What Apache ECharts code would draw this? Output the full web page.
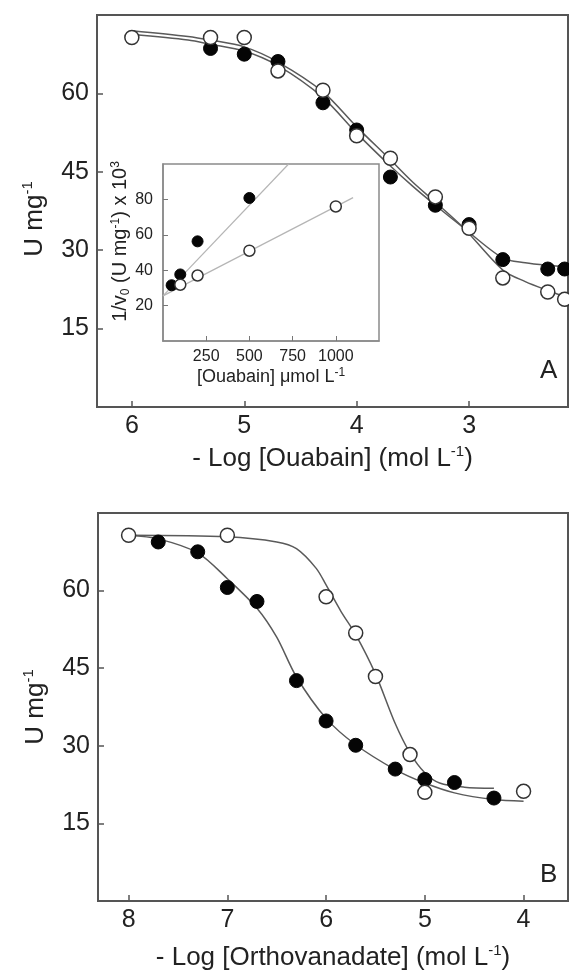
<!DOCTYPE html>
<html>
<head>
    <meta charset="utf-8">
    <title>Ouabain / Orthovanadate</title>
    <script src="https://cdn.jsdelivr.net/npm/echarts@6/dist/echarts.min.js"></script>
    <style>
        html, body { margin: 0; padding: 0; background: #fff; }
    </style>
</head>
<body>
    <div id="chart" style="width: 569px;height:974px;"></div>
    <script type="text/javascript">
        // panel A : ouabain, -log concentration vs activity
        var ouabFilled = [[5.3, 68.6], [5.0, 67.5], [4.7, 66.1], [4.3, 58.2], [4.0, 53.0], [3.7, 44.0],
                          [3.3, 38.6], [3.0, 34.9], [2.7, 28.2], [2.3, 26.4], [2.15, 26.4]];
        var ouabOpen = [[6.0, 70.7], [5.3, 70.7], [5.0, 70.7], [4.7, 64.3], [4.3, 60.6], [4.0, 51.9],
                        [3.7, 47.6], [3.3, 40.2], [3.0, 34.2], [2.7, 24.7], [2.3, 22.0], [2.15, 20.6]];
        // fitted curves
        var ouabFilledFit = [[6.0, 71.3], [5.5, 70.2], [5.3, 69.4], [5.0, 68.1], [4.7, 65.3], [4.3, 59.2],
                             [4.0, 52.4], [3.7, 46.1], [3.5, 42.2], [3.3, 38.6], [3.05, 34.3], [2.7, 28.5],
                             [2.5, 27.6], [2.3, 27.1], [2.12, 26.8]];
        var ouabOpenFit = [[6.0, 72.0], [5.5, 70.9], [5.3, 70.2], [5.0, 68.9], [4.7, 66.0], [4.3, 60.3],
                           [4.0, 53.6], [3.7, 47.3], [3.5, 43.0], [3.3, 39.2], [3.05, 34.3], [2.7, 26.2],
                           [2.5, 24.0], [2.3, 22.3], [2.12, 20.9]];

        // inset : double reciprocal plot
        var insetFilled = [[50, 31.5], [100, 37.6], [200, 56.3], [500, 80.8]];
        var insetOpen = [[100, 31.8], [200, 37.0], [500, 51.0], [1000, 76.0]];
        var insetFilledLine = [[0, 25.5], [727, 100]];
        var insetOpenLine = [[0, 25.5], [1100, 81]];

        // panel B : orthovanadate
        var vanFilled = [[7.7, 69.4], [7.3, 67.5], [7.0, 60.6], [6.7, 57.9], [6.3, 42.6], [6.0, 34.8],
                         [5.7, 30.1], [5.3, 25.5], [5.0, 23.5], [4.7, 22.9], [4.3, 19.9]];
        var vanOpen = [[8.0, 70.7], [7.0, 70.7], [6.0, 58.8], [5.7, 51.8], [5.5, 43.4], [5.15, 28.3],
                       [5.0, 21.0], [4.0, 21.2]];
        var vanFilledFit = [[8.0, 70.7], [7.7, 70.0], [7.3, 67.3], [7.0, 62.3], [6.7, 56.6], [6.5, 51.0],
                            [6.3, 43.3], [6.0, 35.3], [5.7, 30.2], [5.3, 25.4], [5.0, 22.8], [4.7, 20.9],
                            [4.3, 19.6], [4.0, 19.3]];
        var vanOpenFit = [[8.0, 70.7], [7.0, 70.4], [6.5, 69.4], [6.3, 68.1], [6.1, 64.3], [6.0, 61.1],
                          [5.85, 56.0], [5.7, 51.5], [5.5, 43.9], [5.3, 34.3], [5.15, 28.6], [5.0, 24.8],
                          [4.85, 22.8], [4.6, 22.0], [4.3, 21.8]];

        var ouabTicks = [6, 5, 4, 3];
        var vanTicks = [8, 7, 6, 5, 4];

        var FONT = 'Liberation Sans, Arial, sans-serif';
        var AXIS_COLOR = '#555';
        var CURVE_COLOR = '#5a5a5a';
        var INSET_COLOR = '#8a8a8a';

        var mainRich = {
            sup: { fontSize: 15, verticalAlign: 'top', lineHeight: 15, fontFamily: FONT, color: '#222' }
        };
        var insetRich = {
            sup: { fontSize: 12, verticalAlign: 'top', lineHeight: 12, fontFamily: FONT, color: '#222' },
            sub: { fontSize: 12, verticalAlign: 'bottom', lineHeight: 12, fontFamily: FONT, color: '#222' }
        };

        function mainX(idx, min, max, ticks, name, gap) {
            return {
                type: 'value', gridIndex: idx, min: min, max: max, inverse: true,
                name: name, nameLocation: 'middle', nameGap: gap,
                nameTextStyle: { fontSize: 26, fontFamily: FONT, color: '#222', lineHeight: 30, rich: mainRich },
                axisLine: { show: true, onZero: false, lineStyle: { color: AXIS_COLOR, width: 2 } },
                axisTick: { show: true, inside: true, length: 6, customValues: ticks, lineStyle: { color: AXIS_COLOR, width: 1.5 } },
                axisLabel: { customValues: ticks, fontSize: 25, fontFamily: FONT, color: '#222', margin: 7 },
                splitLine: { show: false }
            };
        }

        function mainY(idx, namePad) {
            return {
                type: 'value', gridIndex: idx, min: 0, max: 75, interval: 15,
                name: 'U mg{sup|-1}', nameLocation: 'middle', nameGap: 44,
                nameTextStyle: { fontSize: 26, fontFamily: FONT, color: '#222', lineHeight: 30, rich: mainRich, padding: namePad },
                axisLine: { show: true, onZero: false, lineStyle: { color: AXIS_COLOR, width: 2 } },
                axisTick: { show: true, inside: true, length: 6, lineStyle: { color: AXIS_COLOR, width: 1.5 } },
                axisLabel: { fontSize: 25, fontFamily: FONT, color: '#222', margin: 8, showMinLabel: false, showMaxLabel: false },
                splitLine: { show: false }
            };
        }

        function curve(x, y, data) {
            return {
                type: 'line', xAxisIndex: x, yAxisIndex: y, data: data, smooth: 0.3,
                showSymbol: false, symbol: 'none', silent: true,
                lineStyle: { color: CURVE_COLOR, width: 1.5 }
            };
        }

        function dots(x, y, data, open, size, z) {
            return {
                type: 'scatter', xAxisIndex: x, yAxisIndex: y, data: data, symbolSize: size, z: z || 5,
                itemStyle: open
                    ? { color: '#fff', borderColor: '#333', borderWidth: 1.5, opacity: 1 }
                    : { color: '#050505', borderColor: '#050505', borderWidth: 1, opacity: 1 }
            };
        }

        var myChart = echarts.init(document.getElementById('chart'));

        var option = {
            animation: false,
            backgroundColor: '#fff',
            grid: [
                { left: 97, top: 15, width: 471, height: 392, show: true, borderColor: AXIS_COLOR, borderWidth: 2 },
                { left: 98, top: 513, width: 470, height: 393, show: true, borderColor: AXIS_COLOR, borderWidth: 2 },
                { left: 163, top: 164, width: 216, height: 177, show: true, borderColor: INSET_COLOR, borderWidth: 1.5, backgroundColor: '#fff', z: 3 }
            ],
            xAxis: [
                mainX(0, 2.12, 6.31, ouabTicks, '- Log [Ouabain] (mol L{sup|-1})', 37),
                mainX(1, 3.55, 8.31, vanTicks, '- Log [Orthovanadate] (mol L{sup|-1})', 42),
                {
                    type: 'value', gridIndex: 2, min: 0, max: 1250, interval: 250, z: 4,
                    name: '[Ouabain] μmol L{sup|-1}', nameLocation: 'middle', nameGap: 26,
                    nameTextStyle: { fontSize: 18, fontFamily: FONT, color: '#222', lineHeight: 20, rich: insetRich },
                    axisLine: { show: true, onZero: false, lineStyle: { color: INSET_COLOR, width: 1.5 } },
                    axisTick: { show: true, inside: true, length: 5, lineStyle: { color: '#777' } },
                    axisLabel: { fontSize: 16, fontFamily: FONT, color: '#222', margin: 8, showMinLabel: false, showMaxLabel: false,
                        formatter: function (v) { return String(v); } },
                    splitLine: { show: false }
                }
            ],
            yAxis: [
                mainY(0, [0, 16, 0, 0]),
                mainY(1, 0),
                {
                    type: 'value', gridIndex: 2, min: 0, max: 100, interval: 20, z: 4,
                    name: '1/v{sub|0} (U mg{sup|-1}) x 10{sup|3}', nameLocation: 'middle', nameGap: 27,
                    nameTextStyle: { fontSize: 20, fontFamily: FONT, color: '#222', lineHeight: 22, rich: insetRich, padding: [0, 0, 0, 22] },
                    axisLine: { show: true, onZero: false, lineStyle: { color: INSET_COLOR, width: 1.5 } },
                    axisTick: { show: true, inside: true, length: 5, lineStyle: { color: '#777' } },
                    axisLabel: { fontSize: 16, fontFamily: FONT, color: '#222', margin: 10, showMinLabel: false, showMaxLabel: false },
                    splitLine: { show: false }
                }
            ],
            series: [
                curve(0, 0, ouabFilledFit),
                curve(0, 0, ouabOpenFit),
                dots(0, 0, ouabFilled, false, 14),
                dots(0, 0, ouabOpen, true, 14),

                {
                    type: 'line', xAxisIndex: 2, yAxisIndex: 2, data: insetFilledLine, clip: true,
                    symbol: 'none', silent: true, z: 4, lineStyle: { color: '#b5b5b5', width: 1.2 }
                },
                {
                    type: 'line', xAxisIndex: 2, yAxisIndex: 2, data: insetOpenLine, clip: true,
                    symbol: 'none', silent: true, z: 4, lineStyle: { color: '#b5b5b5', width: 1.2 }
                },
                dots(2, 2, insetFilled, false, 11, 6),
                dots(2, 2, insetOpen, true, 11, 6),

                curve(1, 1, vanFilledFit),
                curve(1, 1, vanOpenFit),
                dots(1, 1, vanFilled, false, 14),
                dots(1, 1, vanOpen, true, 14)
            ],
            graphic: [
                { type: 'text', left: 540, top: 358, style: { text: 'A', fontSize: 26, fontFamily: FONT, fill: '#222' } },
                { type: 'text', left: 540, top: 862, style: { text: 'B', fontSize: 26, fontFamily: FONT, fill: '#222' } }
            ]
        };

        myChart.setOption(option);
    </script>
</body>
</html>
